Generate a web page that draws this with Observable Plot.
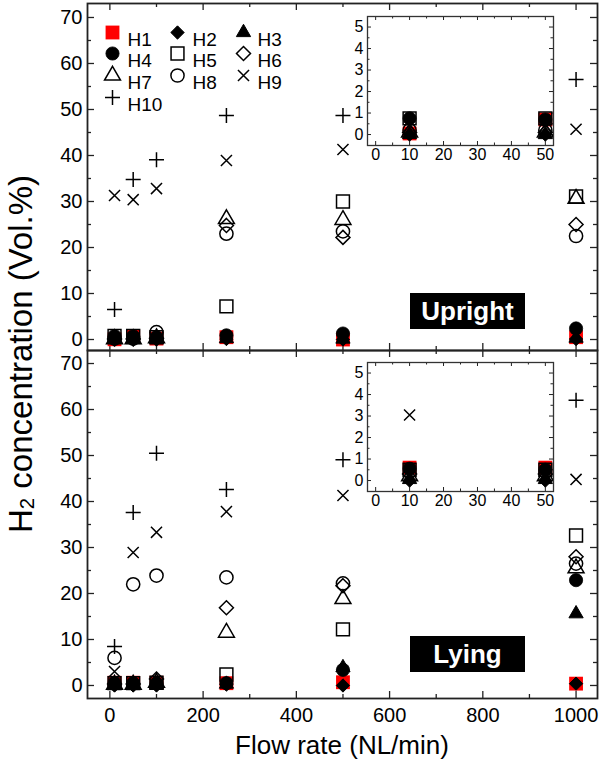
<!DOCTYPE html>
<html><head><meta charset="utf-8">
<script src="https://cdn.jsdelivr.net/npm/d3@7"></script>
<script src="https://cdn.jsdelivr.net/npm/@observablehq/plot@0.6"></script>
<style>
body{margin:0;background:#fff;}
#chart{position:relative;width:599px;height:762px;font-family:"Liberation Sans",Arial,sans-serif;color:#000;overflow:hidden;}
.tag{position:absolute;background:#000;color:#fff;font-weight:bold;font-size:26px;display:flex;align-items:center;justify-content:center;}
.title{position:absolute;white-space:nowrap;transform:translate(-50%,-50%);}
.title sub{font-size:0.62em;vertical-align:-0.12em;}
</style></head><body><div id="chart"></div>
<script>
// ---- data ----
const flows = [10, 50, 100, 250, 500, 1000];
const seriesNames = ["H1", "H2", "H3", "H4", "H5", "H6", "H7", "H8", "H9", "H10"];
const panelNames = ["Upright", "Lying"];
const uprightValues = [
  [0.05, 0.7, 0.2, 0.5, 0.0, 0.5],
  [0.0, 0.0, 0.0, 0.1, 0.0, 0.1],
  [0.0, 0.0, 0.0, 0.2, 0.1, 0.3],
  [0.75, 0.7, 0.5, 0.9, 1.3, 2.4],
  [0.75, 0.75, 0.5, 7.2, 30.0, 31.1],
  [0.1, 0.1, 0.3, 24.8, 22.2, 25.0],
  [0.1, 0.1, 0.3, 26.2, 26.0, 30.6],
  [0.2, 0.2, 1.6, 23.0, 23.5, 22.5],
  [31.3, 30.4, 32.8, 38.9, 41.3, 45.7],
  [6.5, 34.8, 39.1, 48.7, 48.7, 56.5]
];
const lyingValues = [
  [0.6, 0.6, 0.6, 0.5, 0.7, 0.4],
  [0.0, 0.0, 0.0, 0.2, 0.0, 0.4],
  [0.05, 0.05, 0.1, 0.3, 3.9, 15.6],
  [0.55, 0.5, 0.5, 0.5, 3.4, 22.9],
  [0.5, 0.5, 0.6, 2.4, 12.2, 32.6],
  [0.3, 0.3, 1.4, 16.9, 21.7, 28.0],
  [0.2, 0.2, 0.6, 11.5, 18.8, 25.5],
  [6.0, 22.0, 23.9, 23.5, 22.2, 26.5],
  [3.05, 28.9, 33.3, 37.8, 41.3, 44.8],
  [8.5, 37.6, 50.5, 42.6, 49.1, 62.0]
];
const xTicks = [0, 200, 400, 600, 800, 1000];
const xMinorTicks = [100, 300, 500, 700, 900];
const yTicks = [0, 10, 20, 30, 40, 50, 60, 70];
const yMinorTicks = [5, 15, 25, 35, 45, 55, 65];
const insetXTicks = [0, 10, 20, 30, 40, 50];
const insetXMinorTicks = [5, 15, 25, 35, 45];
const insetYTicks = [0, 1, 2, 3, 4, 5];
const insetYMinorTicks = [0.5, 1.5, 2.5, 3.5, 4.5];

// ---- styles ----
const seriesStyles = [
  {symbol: "square", r: 7.8, fill: "#ff0000", stroke: "none"},
  {symbol: "diamond2", r: 6, fill: "#000", stroke: "#000", strokeWidth: 1},
  {symbol: "triangle2", r: 6.8, fill: "#000", stroke: "#000", strokeWidth: 1},
  {symbol: "circle", r: 6.6, fill: "#000", stroke: "#000", strokeWidth: 0.8},
  {symbol: "square2", r: 8.2, fill: "none", stroke: "#000", strokeWidth: 1.5},
  {symbol: "diamond2", r: 6.3, fill: "none", stroke: "#000", strokeWidth: 1.5},
  {symbol: "triangle2", r: 7.6, fill: "none", stroke: "#000", strokeWidth: 1.5},
  {symbol: "circle", r: 6.6, fill: "none", stroke: "#000", strokeWidth: 1.5},
  {symbol: "times", r: 5.1, fill: "none", stroke: "#000", strokeWidth: 1.5},
  {symbol: "plus", r: 4.9, fill: "none", stroke: "#000", strokeWidth: 1.5}
];
const W = 599, H = 762;
const FRAME_LEFT = 87, FRAME_RIGHT = 597;
const frameColor = "#222";
const baseStyle = (fs) => ({position: "absolute", left: "0px", top: "0px", background: "transparent",
  overflow: "visible", fontFamily: '"Liberation Sans", Arial, sans-serif', fontSize: fs + "px", color: "#000"});
const plain = d => String(d);

function rowsFor(values, i) {
  return flows.map((f, j) => ({flow: f, value: values[i][j], series: seriesNames[i]}));
}

function tickMarks(frameW, frameH, xs, ys, len, opts) {
  return [
    Plot.tickX(xs, {x: d => d, insetTop: frameH - len, ...opts}),
    Plot.tickX(xs, {x: d => d, insetBottom: frameH - len, ...opts}),
    Plot.tickY(ys, {y: d => d, insetRight: frameW - len, ...opts}),
    Plot.tickY(ys, {y: d => d, insetLeft: frameW - len, ...opts})
  ];
}

function mainPanel(values, top, bottom, yDomain, showX, withLegend) {
  const frameW = FRAME_RIGHT - FRAME_LEFT, frameH = bottom - top;
  const tk = {stroke: frameColor, strokeWidth: 1.3};
  const marks = [
    ...tickMarks(frameW, frameH, xTicks, yTicks, 7, tk),
    ...tickMarks(frameW, frameH, xMinorTicks, yMinorTicks, 4, tk),
    Plot.axisY({ticks: yTicks, tickSize: 0, tickPadding: 5, label: null, fontSize: 20, tickFormat: plain}),
  ];
  if (showX) marks.push(Plot.axisX({ticks: xTicks, tickSize: 0, tickPadding: 9, label: null, fontSize: 20, tickFormat: plain}));
  seriesNames.forEach((s, i) => {
    marks.push(Plot.dot(rowsFor(values, i), {x: "flow", y: "value", ...seriesStyles[i]}));
  });
  if (withLegend) {
    const colDx = [25, 90, 156], labelDx = [40, 105, 170], rowDy = [29, 50, 72, 94];
    seriesNames.forEach((s, i) => {
      const c = i % 3, r = Math.floor(i / 3);
      marks.push(Plot.dot([s], {frameAnchor: "top-left", dx: colDx[c], dy: rowDy[r], ...seriesStyles[i]}));
      marks.push(Plot.text([s], {frameAnchor: "top-left", dx: labelDx[c], dy: rowDy[r], text: d => d, textAnchor: "start", fontSize: 19, fill: "#000"}));
    });
  }
  marks.push(Plot.frame({stroke: frameColor, strokeWidth: 1.8}));
  return Plot.plot({
    width: W, height: H,
    marginLeft: FRAME_LEFT, marginRight: W - FRAME_RIGHT, marginTop: top, marginBottom: H - bottom,
    x: {domain: [-48, 1046], axis: null},
    y: {domain: yDomain, axis: null},
    style: baseStyle(20),
    marks
  });
}

function insetPanel(values, top) {
  const left = 367, right = 553, bottom = top + 129;
  const frameW = right - left, frameH = bottom - top;
  const tk = {stroke: frameColor, strokeWidth: 1};
  const marks = [
    Plot.frame({fill: "white", stroke: null}),
    ...tickMarks(frameW, frameH, insetXTicks, insetYTicks, 4, tk),
    ...tickMarks(frameW, frameH, insetXMinorTicks, insetYMinorTicks, 2.5, tk),
    Plot.axisY({ticks: insetYTicks, tickSize: 0, tickPadding: 4, label: null, fontSize: 16, tickFormat: plain}),
    Plot.axisX({ticks: insetXTicks, tickSize: 0, tickPadding: 3, label: null, fontSize: 16, tickFormat: plain})
  ];
  seriesNames.forEach((s, i) => {
    marks.push(Plot.dot(rowsFor(values, i), {x: "flow", y: "value", clip: true, ...seriesStyles[i]}));
  });
  marks.push(Plot.frame({stroke: "#333", strokeWidth: 1.3}));
  return Plot.plot({
    width: W, height: H,
    marginLeft: left, marginRight: W - right, marginTop: top, marginBottom: H - bottom,
    x: {domain: [-2.4, 52.4], axis: null},
    y: {domain: [-0.51, 5.49], axis: null},
    style: baseStyle(16),
    marks
  });
}

const chart = document.getElementById("chart");
chart.appendChild(mainPanel(uprightValues, 3, 350, [-2.39, 73.04], false, true));
chart.appendChild(mainPanel(lyingValues, 350, 698, [-2.83, 72.83], true, false));
chart.appendChild(insetPanel(uprightValues, 16));
chart.appendChild(insetPanel(lyingValues, 362));

function addDiv(cls, html, css) {
  const d = document.createElement("div");
  d.className = cls; d.innerHTML = html;
  Object.assign(d.style, css);
  chart.appendChild(d);
}
addDiv("tag", panelNames[0], {left: "410px", top: "293px", width: "115px", height: "36px"});
addDiv("tag", panelNames[1], {left: "410px", top: "636px", width: "115px", height: "36px"});
addDiv("title", "Flow rate (NL/min)", {left: "342px", top: "745px", fontSize: "26px"});
addDiv("title", "H<sub>2</sub> concentration (Vol.%)", {left: "21px", top: "354px", fontSize: "33px", transform: "translate(-50%,-50%) rotate(-90deg)"});
</script></body></html>
